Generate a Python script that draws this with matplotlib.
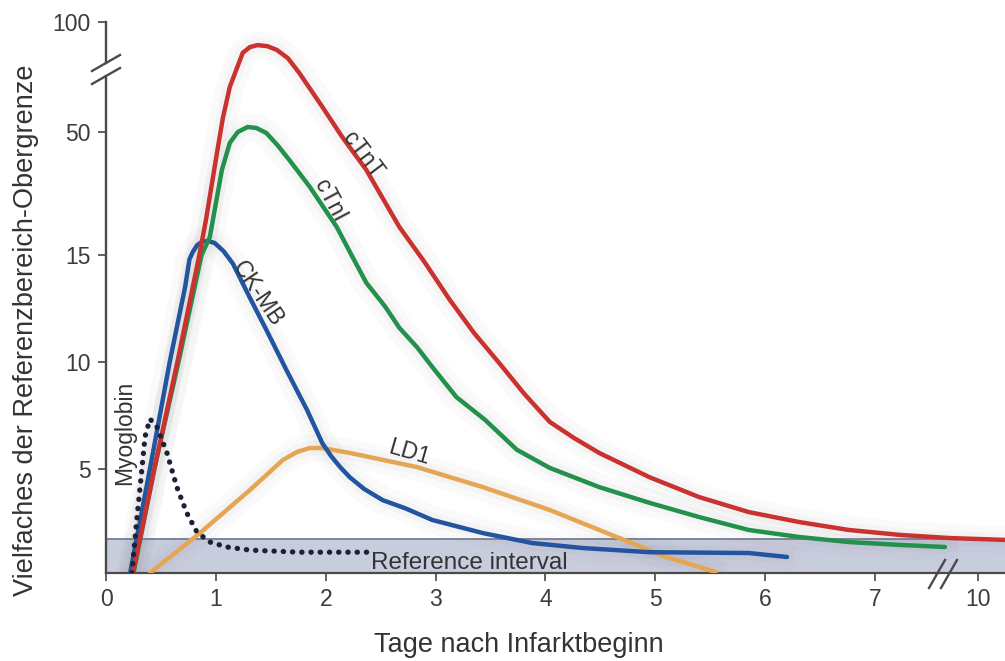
import numpy as np
import matplotlib
matplotlib.use("Agg")
import matplotlib.pyplot as plt

plt.rcParams["font.family"] = ["Liberation Sans", "DejaVu Sans"]

# axis breaks: value -> drawing position (piecewise)
y_vals = [0, 5, 10, 15, 50, 100]
y_pos = [0, 104, 211, 318, 441, 551]
x_vals = [0, 7, 10, 11]
x_pos = [0, 769, 872, 906.3]

x_ticks = [0, 1, 2, 3, 4, 5, 6, 7, 10]
y_ticks = [5, 10, 15, 50, 100]
ref_upper = 1.63

# curves (days after onset, multiples of upper reference limit)
ctnt_days = [0.245, 0.44, 0.65, 0.85, 0.91, 1.01, 1.064, 1.127, 1.245, 1.31, 1.38, 1.47,
             1.555, 1.655, 1.76, 1.97, 2.15, 2.37, 2.67, 2.9, 3.13, 3.35, 3.58, 3.81,
             4.04, 4.26, 4.49, 4.95, 5.40, 5.85, 6.31, 6.76, 7.73, 9.18, 10.8]
ctnt_vals = [0, 5, 10, 15, 25, 44, 56.4, 70.5, 86, 88.6, 89.5, 89,
             87.3, 83.6, 76.8, 61.4, 48.6, 39.2, 23, 14.67, 12.9, 11.36, 9.95, 8.5,
             7.2, 6.45, 5.75, 4.6, 3.65, 2.93, 2.45, 2.07, 1.83, 1.68, 1.59]

ctni_days = [0.25, 0.44, 0.66, 0.87, 0.945, 1.055, 1.127, 1.2, 1.29, 1.37, 1.46, 1.56,
             1.67, 1.855, 2.1, 2.24, 2.37, 2.54, 2.67, 2.83, 2.97, 3.19, 3.45, 3.74,
             4.04, 4.49, 4.95, 5.40, 5.85, 6.31, 6.76, 7.73, 9.04]
ctni_vals = [0, 5, 10, 15, 20.1, 39.2, 46.9, 50, 52.3, 51.8, 49.7, 46.3,
             42, 34.4, 23, 14.95, 13.7, 12.6, 11.6, 10.7, 9.77, 8.36, 7.3, 5.9,
             5.05, 4.13, 3.37, 2.69, 2.07, 1.73, 1.49, 1.35, 1.25]

ckmb_days = [0.22, 0.4, 0.58, 0.72, 0.76, 0.79, 0.83, 0.88, 0.94, 0.99, 1.07, 1.155,
             1.31, 1.46, 1.645, 1.83, 1.97, 2.05, 2.13, 2.22, 2.35, 2.52, 2.72, 2.97,
             3.43, 3.88, 4.34, 4.95, 5.85, 6.2]
ckmb_vals = [0, 5, 10, 13.5, 14.8, 15.85, 17.8, 18.9, 18.9, 18.4, 16.1, 14.6,
             13.0, 11.5, 9.6, 7.76, 6.2, 5.6, 5.1, 4.6, 4.04, 3.5, 3.12, 2.55,
             1.92, 1.44, 1.2, 1.0, 0.96, 0.77]

ld1_days = [0.4, 0.855, 1.31, 1.61, 1.74, 1.855, 1.97, 2.22, 2.83, 3.43, 4.04, 4.65,
            5.1, 5.55]
ld1_vals = [0, 1.92, 3.99, 5.42, 5.8, 5.98, 5.98, 5.75, 5.09, 4.13, 3.03, 1.73,
            0.77, 0.05]

myo_days = [0.236, 0.28, 0.327, 0.355, 0.4, 0.464, 0.555, 0.645, 0.736, 0.827, 0.945,
            1.1, 1.31, 1.76, 2.4]
myo_vals = [0, 2.55, 5, 6.5, 7.34, 6.96, 5.75, 4.13, 2.88, 1.97, 1.49,
            1.25, 1.1, 1.0, 1.0]


def fwd_y(v):
    return np.interp(v, y_vals, y_pos)


def inv_y(p):
    return np.interp(p, y_pos, y_vals)


def fwd_x(v):
    return np.interp(v, x_vals, x_pos)


def inv_x(p):
    return np.interp(p, x_pos, x_vals)


fig = plt.figure(figsize=(10.05, 6.61), dpi=100)
ax = fig.add_axes([106 / 1005, 88 / 661, 899 / 1005, 551 / 661])
ax.set_xscale("function", functions=(fwd_x, inv_x))
ax.set_yscale("function", functions=(fwd_y, inv_y))
ax.set_xlim(0, 10.79)
ax.set_ylim(0, 100)

txt = "#333333"

# reference interval band
ax.axhspan(0, ref_upper, facecolor="#c8cdde", edgecolor="none", zorder=1)
ax.axhline(ref_upper, color="#80869a", lw=1.4, zorder=1.5)

curves = [(ld1_days, ld1_vals, "#e5a654"),
          (ckmb_days, ckmb_vals, "#23549f"),
          (ctni_days, ctni_vals, "#23904c"),
          (ctnt_days, ctnt_vals, "#c9322f")]

# soft grey shadow under the curves
for d, v, c in curves:
    ax.plot(d, v, color="0.45", lw=20, alpha=0.035, solid_joinstyle="round",
            solid_capstyle="round", zorder=2)
    ax.plot(d, v, color="0.45", lw=10, alpha=0.045, solid_joinstyle="round",
            solid_capstyle="round", zorder=2)

for d, v, c in curves:
    ax.plot(d, v, color=c, lw=3.2, solid_capstyle="round",
            solid_joinstyle="round", zorder=3)
ax.plot(myo_days, myo_vals, color="#1b2136", lw=3.8, linestyle=(0, (0.05, 1.7)),
        dash_capstyle="round", zorder=4)

# curve labels
lab = dict(color=txt, fontsize=16.5, ha="center", va="center", zorder=5)
ax.text(2.34, 43.5, "cTnT", rotation=-53, **lab)
ax.text(2.04, 30.6, "cTnI", rotation=-62, **lab)
ax.text(1.38, 13.2, "CK-MB", rotation=-56, **lab)
ax.text(0.17, 6.7, "Myoglobin", rotation=90, **lab)
ax.text(2.76, 5.75, "LD1", rotation=-16, **lab)
ax.text(3.31, 0.5, "Reference interval", color=txt, fontsize=17.5,
        ha="center", va="center", zorder=5)

# axes styling
for s in ["top", "right", "left"]:
    ax.spines[s].set_visible(False)
ax.spines["bottom"].set_color("#4a4a4a")
ax.spines["bottom"].set_linewidth(1.6)
ax.spines["bottom"].set_zorder(2)

ax.set_xticks(x_ticks)
ax.set_xticklabels([str(t) for t in x_ticks])
ax.set_yticks(y_ticks)
ax.set_yticklabels([str(t) for t in y_ticks])
ax.xaxis.set_minor_locator(matplotlib.ticker.NullLocator())
ax.yaxis.set_minor_locator(matplotlib.ticker.NullLocator())
ax.tick_params(axis="both", colors="#555555", labelcolor="#3c3c3c",
               labelsize=16.5, length=6, width=1.3, pad=5)

# left axis line with break
line = dict(color="#4a4a4a", lw=1.7, transform=ax.transAxes, clip_on=False, zorder=6)
y_lo = (573 - 76) / 551
y_hi = (573 - 63) / 551
ax.plot([0, 0], [0, y_lo], **line)
ax.plot([0, 0], [y_hi, 1], **line)
dx, dy = 14 / 899, 8 / 551
for yc in [y_lo, y_hi]:
    ax.plot([-dx, dx], [yc - dy, yc + dy], **line)

# x axis break
for xc in [(937 - 106) / 899, (949 - 106) / 899]:
    ax.plot([xc - 8 / 899, xc + 8 / 899], [-15 / 551, 13 / 551], **line)

fig.text(519 / 1005, 1 - 645 / 661, "Tage nach Infarktbeginn", color=txt,
         fontsize=19.5, ha="center", va="center")
fig.text(26 / 1005, 1 - 330 / 661, "Vielfaches der Referenzbereich-Obergrenze",
         color=txt, fontsize=19.5, rotation=90, ha="center", va="center")

fig.savefig("out.png", dpi=100, facecolor="white")
